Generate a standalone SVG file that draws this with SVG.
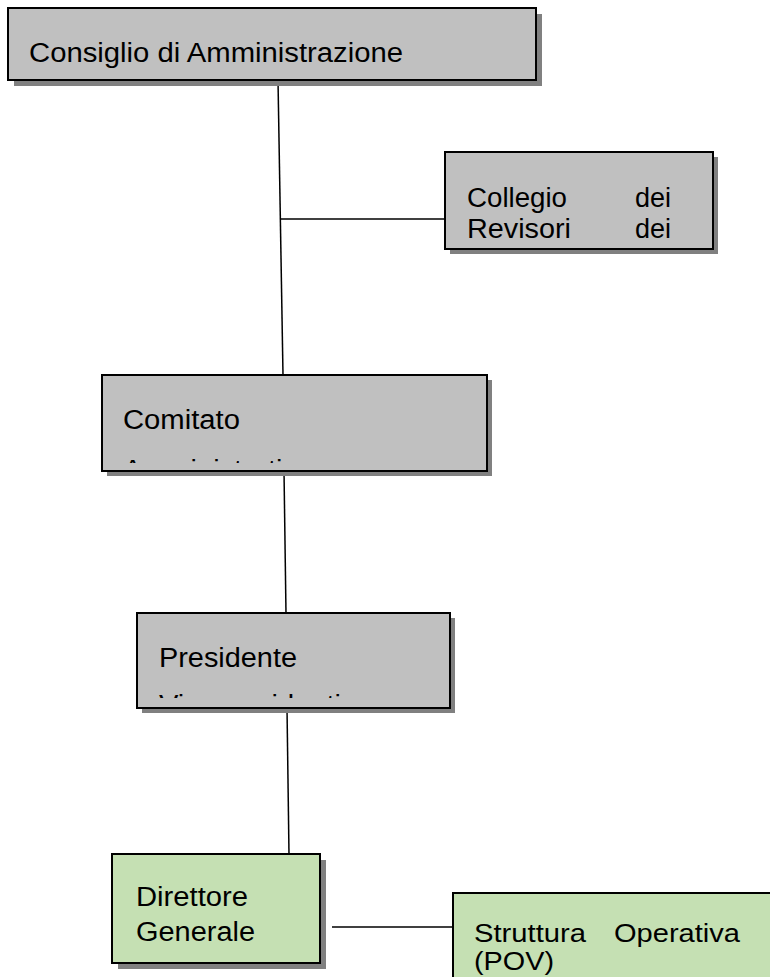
<svg xmlns="http://www.w3.org/2000/svg" width="770" height="977" viewBox="0 0 770 977">
<style>
.sh{fill:#808080}
.gray{fill:#c0c0c0;stroke:#000;stroke-width:2}
.green{fill:#c5e0b3;stroke:#000;stroke-width:2}
.t{font-family:"Liberation Sans",Arial,sans-serif;font-size:27px;fill:#000}
.s{font-size:25px}
.c{stroke:#000;stroke-width:1.5;fill:none}
</style>
<defs>
<clipPath id="clipCom"><rect x="102" y="375" width="385" height="88"/></clipPath>
<clipPath id="clipPres"><rect x="137" y="613" width="313" height="85"/></clipPath>
</defs>
<rect width="770" height="977" fill="#fff"/>
<g id="connectors">
<line class="c" x1="278" y1="80" x2="283" y2="375"/>
<line class="c" x1="280" y1="219" x2="445" y2="219"/>
<line class="c" x1="284" y1="471" x2="286" y2="613"/>
<line class="c" x1="287" y1="708" x2="289" y2="854"/>
<line class="c" x1="332" y1="927" x2="453" y2="927"/>
</g>
<g id="consiglio">
<rect class="sh" x="14" y="14" width="528" height="72"/>
<rect class="gray" x="8" y="8" width="528" height="72"/>
<text class="t" x="29" y="62" textLength="374" lengthAdjust="spacingAndGlyphs">Consiglio di Amministrazione</text>
</g>
<g id="collegio">
<rect class="sh" x="450" y="157" width="268" height="97"/>
<rect class="gray" x="445" y="152" width="268" height="97"/>
<text class="t" x="467" y="207" textLength="100" lengthAdjust="spacingAndGlyphs">Collegio</text>
<text class="t" x="671" y="207" text-anchor="end">dei</text>
<text class="t" x="467" y="238" textLength="104" lengthAdjust="spacingAndGlyphs">Revisori</text>
<text class="t" x="671" y="238" text-anchor="end">dei</text>
</g>
<g id="comitato">
<rect class="sh" x="107" y="380" width="385" height="96"/>
<rect class="gray" x="102" y="375" width="385" height="96"/>
<text class="t" x="123" y="429" textLength="117" lengthAdjust="spacingAndGlyphs">Comitato</text>
<text class="t" x="123" y="479" textLength="190" lengthAdjust="spacingAndGlyphs" clip-path="url(#clipCom)">Amministrativo</text>
</g>
<g id="presidente">
<rect class="sh" x="142" y="618" width="313" height="95"/>
<rect class="gray" x="137" y="613" width="313" height="95"/>
<text class="t" x="159" y="667" textLength="138" lengthAdjust="spacingAndGlyphs">Presidente</text>
<text class="t" x="159" y="714" textLength="182" lengthAdjust="spacingAndGlyphs" clip-path="url(#clipPres)">Vicepresidenti</text>
</g>
<g id="direttore">
<rect class="sh" x="118" y="860" width="208" height="109"/>
<rect class="green" x="112" y="854" width="208" height="109"/>
<text class="t" x="136" y="906" textLength="112" lengthAdjust="spacingAndGlyphs">Direttore</text>
<text class="t" x="136" y="941" textLength="119" lengthAdjust="spacingAndGlyphs">Generale</text>
</g>
<g id="struttura">
<rect class="green" x="453" y="893" width="340" height="110"/>
<text class="t s" x="474" y="942" textLength="112" lengthAdjust="spacingAndGlyphs">Struttura</text>
<text class="t s" x="614" y="942" textLength="126" lengthAdjust="spacingAndGlyphs">Operativa</text>
<text class="t s" x="474" y="970" textLength="80" lengthAdjust="spacingAndGlyphs">(POV)</text>
</g>
</svg>
